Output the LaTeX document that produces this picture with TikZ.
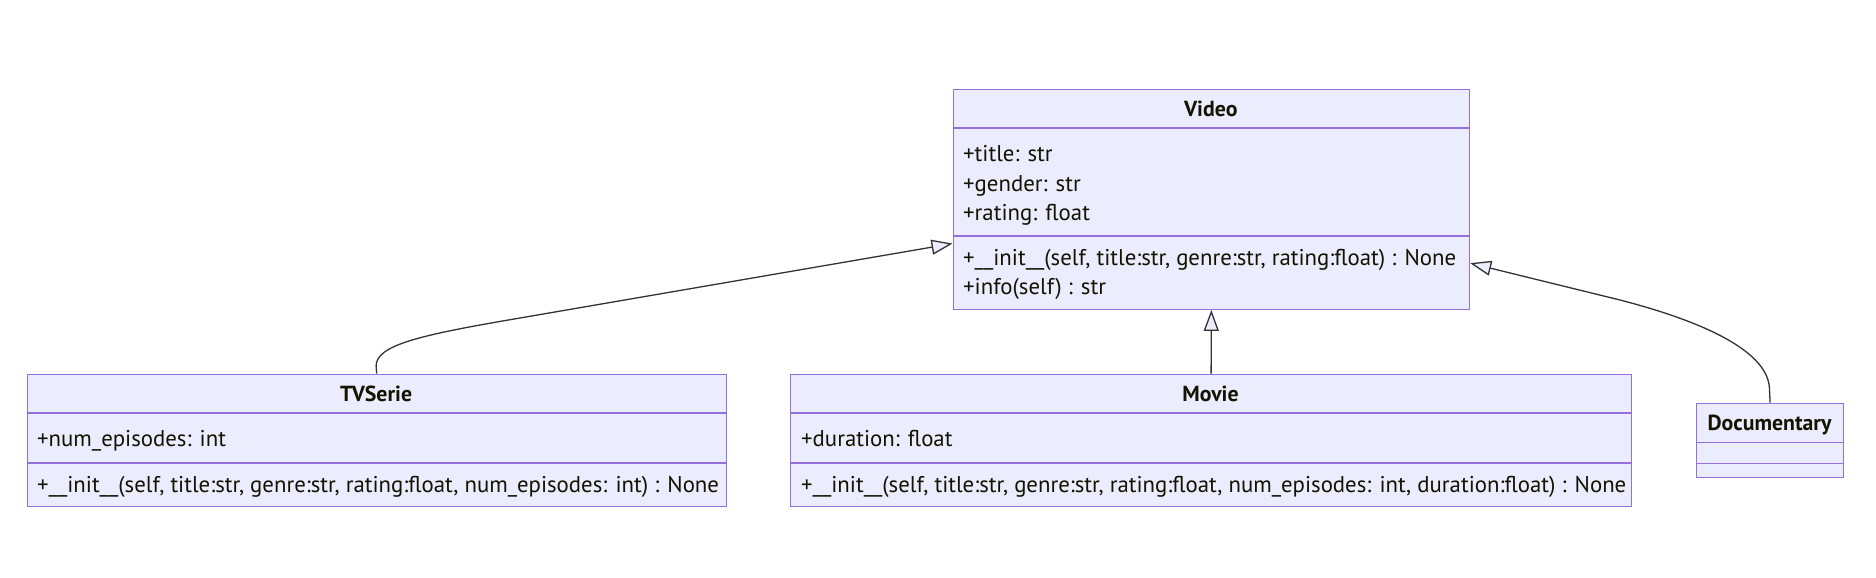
\documentclass[tikz,border=0pt]{standalone}
\usepackage{fontspec}
\setmainfont{PT Sans}
\usetikzlibrary{arrows.meta,calc}
\definecolor{cfill}{HTML}{ECECFF}
\definecolor{cborder}{HTML}{9370DB}
\definecolor{cline}{HTML}{333333}
\definecolor{ctext}{HTML}{131300}
\tikzset{
  classbox/.style={draw=cborder, fill=cfill, line width=1.2pt, inner sep=0pt, rectangle, anchor=north west},
  divider/.style={draw=cborder, line width=1.2pt},
  member/.style={anchor=base west, inner sep=0pt, text=ctext, font=\fontsize{22.8}{27}\selectfont},
  classname/.style={anchor=base, inner sep=0pt, text=ctext, font=\fontsize{21.8}{26}\selectfont\bfseries},
  inherit/.style={draw=cline, line width=1.3pt, -{Triangle[length=21pt, width=15pt, fill=cfill]}},
}
\begin{document}
\begin{tikzpicture}[x=1pt, y=-1pt]
\fill[white] (0,0) rectangle (1876,578);
\useasboundingbox (0,0) rectangle (1876,578);

% Video
\node[classbox, minimum width=516.5pt, minimum height=220.2pt] (video) at (952.5,88.5) {};
\draw[divider] (video.west |- 0,128) -- (video.east |- 0,128);
\draw[divider] (video.west |- 0,236) -- (video.east |- 0,236);
\node[classname] (videoname) at (1210.75,116.5) {Video};
\node[member] (v1) at (963,161.7) {+title: str};
\node[member] (v2) at (963,191) {+gender: str};
\node[member] (v3) at (963,220) {+rating: float};
\node[member] (v4) at (963,265.7) {+\_\_init\_\_(self, title:str, genre:str, rating:float) : None};
\node[member] (v5) at (963,294) {+info(self) : str};

% TVSerie
\node[classbox, minimum width=698.8pt, minimum height=132.5pt] (tv) at (26.7,373.5) {};
\draw[divider] (tv.west |- 0,413) -- (tv.east |- 0,413);
\draw[divider] (tv.west |- 0,463) -- (tv.east |- 0,463);
\node[classname] (tvname) at (376.1,401.5) {TVSerie};
\node[member] (t1) at (37,446) {+num\_episodes: int};
\node[member] (t2) at (37,492.5) {+\_\_init\_\_(self, title:str, genre:str, rating:float, num\_episodes: int) : None};

% Movie
\node[classbox, minimum width=841pt, minimum height=132.5pt] (movie) at (790,373.5) {};
\draw[divider] (movie.west |- 0,413) -- (movie.east |- 0,413);
\draw[divider] (movie.west |- 0,463) -- (movie.east |- 0,463);
\node[classname] (moviename) at (1210.5,401.5) {Movie};
\node[member] (m1) at (801,446) {+duration: float};
\node[member] (m2) at (801,492.5) {+\_\_init\_\_(self, title:str, genre:str, rating:float, num\_episodes: int, duration:float) : None};

% Documentary
\node[classbox, minimum width=147pt, minimum height=74pt] (doc) at (1696,402.7) {};
\draw[divider] (doc.west |- 0,442.7) -- (doc.east |- 0,442.7);
\draw[divider] (doc.west |- 0,463.3) -- (doc.east |- 0,463.3);
\node[classname] (docname) at (1769.5,430.5) {Documentary};

% connectors
\coordinate (tipL) at ([yshift=-44.4pt]video.west);
\coordinate (tipR) at ([yshift=-64pt]video.east);
\draw[inherit] (tv.north) -- (376.1,366) .. controls (376.1,345) and (420,335) .. (520,318) -- (tipL);
\draw[inherit] (movie.north) -- (video.south);
\draw[inherit] (doc.north) -- (1769.5,390) .. controls (1769.5,352) and (1705,322) .. (1620,300) -- (tipR);
\end{tikzpicture}
\end{document}
